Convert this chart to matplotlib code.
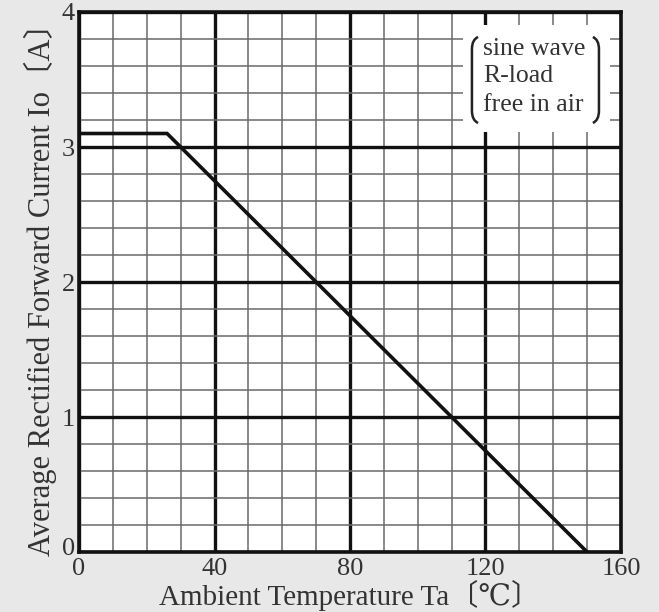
import matplotlib.pyplot as plt
import matplotlib.transforms as mtransforms
import numpy as np
from matplotlib.path import Path
from matplotlib.patches import PathPatch, Rectangle

plt.rcParams['font.family'] = ['Liberation Serif', 'DejaVu Serif', 'Noto Sans CJK JP']

# derating curve
temp = [0, 26, 150]
current = [3.1, 3.1, 0]

x_major = [0, 40, 80, 120, 160]
y_major = [0, 1, 2, 3, 4]
note_lines = ['sine wave', 'R-load', 'free in air']

fig = plt.figure(figsize=(6.59, 6.12), dpi=100)
fig.patch.set_facecolor('#e8e8e8')
ax = fig.add_axes([0.1199, 0.098, 0.8224, 0.8824])
ax.set_facecolor('white')

ax.set_xlim(0, 160)
ax.set_ylim(0, 4)
ax.set_xticks(x_major)
ax.set_yticks(y_major)
ax.set_xticks(np.arange(0, 161, 10), minor=True)
ax.set_yticks(np.arange(0, 4.01, 0.2), minor=True)
ax.set_axisbelow(True)
ax.grid(which='minor', color='#6a6a6a', lw=1.1)
ax.grid(which='major', color='#111111', lw=2.4)
ax.tick_params(which='both', length=0)
ax.tick_params(axis='x', pad=4, labelsize=19, colors='#333333')
ax.tick_params(axis='y', pad=3, labelsize=19, colors='#333333')
for s in ax.spines.values():
    s.set_linewidth(2.6)
    s.set_color('#111111')
    s.set_zorder(5)
# nudge the y "0" up a little so it clears the x "0"
lab0 = ax.get_yticklabels()[0]
lab0.set_transform(lab0.get_transform() + mtransforms.ScaledTranslation(0, 4 / 72, fig.dpi_scale_trans))

ax.plot(temp, current, color='#111111', lw=2.6, zorder=4, solid_joinstyle='miter')

# note box with brackets
ax.add_patch(Rectangle((113.4, 3.11), 43.4, 0.79, facecolor='white', edgecolor='none', zorder=2))
y0, y1 = 3.178, 3.815
c = 0.09
lb = Path([(117.8, y1), (116.0, y1 - 0.02), (116.0, y1 - c), (116.0, y0 + c), (116.0, y0 + 0.02), (117.8, y0)],
          [Path.MOVETO, Path.CURVE3, Path.CURVE3, Path.LINETO, Path.CURVE3, Path.CURVE3])
rb = Path([(151.7, y1), (153.5, y1 - 0.02), (153.5, y1 - c), (153.5, y0 + c), (153.5, y0 + 0.02), (151.7, y0)],
          [Path.MOVETO, Path.CURVE3, Path.CURVE3, Path.LINETO, Path.CURVE3, Path.CURVE3])
for p in (lb, rb):
    ax.add_patch(PathPatch(p, facecolor='none', edgecolor='#222222', lw=1.8, zorder=3))
for line, yb in zip(note_lines, [3.68, 3.48, 3.27]):
    ax.text(119.3, yb, line, fontsize=18.5, color='#333333', va='baseline', ha='left', zorder=4)

ax.set_xlabel('Ambient Temperature Ta〔℃〕', fontsize=21, color='#333333', labelpad=0)
ax.set_ylabel('Average Rectified Forward Current Io〔A〕', fontsize=22, color='#333333', labelpad=3)

fig.savefig('out.png', dpi=100, facecolor=fig.get_facecolor())
